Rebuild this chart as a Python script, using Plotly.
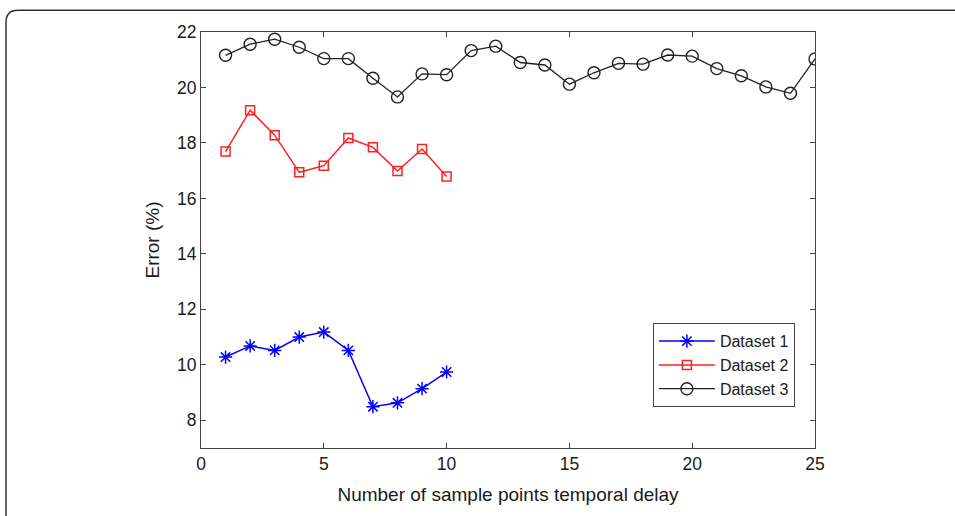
import plotly.graph_objects as go

x1 = [1, 2, 3, 4, 5, 6, 7, 8, 9, 10]
dataset1 = [10.28, 10.68, 10.52, 11.0, 11.18, 10.52, 8.49, 8.63, 9.14, 9.74]

x2 = [1, 2, 3, 4, 5, 6, 7, 8, 9, 10]
dataset2 = [17.69, 19.18, 18.28, 16.94, 17.18, 18.18, 17.84, 16.99, 17.78, 16.79]

x3 = list(range(1, 26))
dataset3 = [21.16, 21.56, 21.74, 21.45, 21.04, 21.04, 20.33, 19.66, 20.49, 20.46,
            21.33, 21.49, 20.90, 20.81, 20.12, 20.53, 20.87, 20.84, 21.17, 21.13,
            20.68, 20.42, 20.02, 19.79, 21.03]

x_ticks = [0, 5, 10, 15, 20, 25]
y_ticks = [8, 10, 12, 14, 16, 18, 20, 22]

font_family = "Liberation Sans, Arial, sans-serif"
axis_color = "#444444"
text_color = "#1a1a1a"

fig = go.Figure()
fig.add_trace(go.Scatter(
    x=x1, y=dataset1, mode="lines+markers", name="Dataset 1",
    line=dict(color="#0000ff", width=1.5),
    marker=dict(symbol="asterisk-open", size=11, color="#0000ff",
                line=dict(color="#0000ff", width=1.5)),
))
fig.add_trace(go.Scatter(
    x=x2, y=dataset2, mode="lines+markers", name="Dataset 2",
    line=dict(color="#ff2020", width=1.5),
    marker=dict(symbol="square-open", size=9, color="#ff2020",
                line=dict(color="#ff2020", width=1.5)),
))
fig.add_trace(go.Scatter(
    x=x3, y=dataset3, mode="lines+markers", name="Dataset 3",
    line=dict(color="#222222", width=1.3),
    marker=dict(symbol="circle-open", size=12, color="#222222",
                line=dict(color="#222222", width=1.4)),
))

# rounded frame around the figure (only top and left edges visible)
x0p = (6 - 201) / 614
ytp = 1 + (31.7 - 10) / 416
ybp = (447.7 - 530) / 416
xrp = (970 - 201) / 614
rx = 12 / 614
ry = 12 / 416
frame_path = (f"M {x0p},{ybp} L {x0p},{ytp - ry} "
              f"Q {x0p},{ytp} {x0p + rx},{ytp} L {xrp},{ytp}")

fig.update_layout(
    width=955, height=516,
    margin=dict(l=201, r=140, t=32, b=68),
    paper_bgcolor="white", plot_bgcolor="white",
    font=dict(family=font_family, color=text_color, size=17),
    showlegend=True,
    legend=dict(
        x=0.736, y=0.30, xanchor="left", yanchor="top",
        bgcolor="white", bordercolor=axis_color, borderwidth=1,
        font=dict(size=16, color=text_color),
        tracegroupgap=0, itemsizing="trace", itemwidth=56,
    ),
    shapes=[dict(type="path", path=frame_path, xref="paper", yref="paper",
                 line=dict(color="#333333", width=1.5), layer="above")],
    xaxis=dict(
        range=[0, 25], tickvals=x_ticks, ticktext=[str(v) for v in x_ticks],
        showgrid=False, zeroline=False,
        showline=True, linecolor=axis_color, linewidth=1.2, mirror="ticks",
        ticks="inside", ticklen=5, tickcolor=axis_color, tickwidth=1,
        tickfont=dict(size=17.5, color=text_color),
        title=dict(text="Number of sample points temporal delay",
                   font=dict(size=19, color=text_color), standoff=14),
    ),
    yaxis=dict(
        range=[7, 22], tickvals=y_ticks, ticktext=[str(v) for v in y_ticks],
        showgrid=False, zeroline=False,
        showline=True, linecolor=axis_color, linewidth=1.2, mirror="ticks",
        ticks="inside", ticklen=5, tickcolor=axis_color, tickwidth=1,
        tickfont=dict(size=17.5, color=text_color),
        title=dict(text="Error (%)", font=dict(size=19, color=text_color),
                   standoff=12),
    ),
)

fig.write_html("out.html", config={"displayModeBar": False},
               post_script="document.body.style.margin='0px';")
